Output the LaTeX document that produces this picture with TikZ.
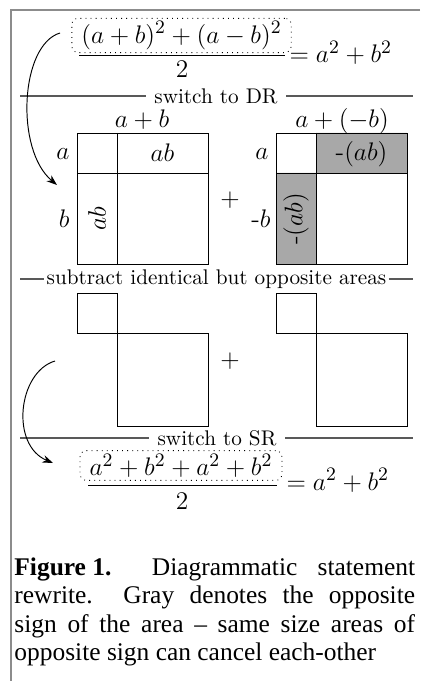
\documentclass[tikz,border=0pt]{standalone}
\usepackage{amsmath}
\usepackage{fontspec}
\newfontfamily\capfont{Liberation Serif}
\usetikzlibrary{positioning, calc, arrows.meta}

\definecolor{framegray}{gray}{0.55}
\definecolor{rulegray}{gray}{0.35}
\definecolor{areagray}{gray}{0.66}

\tikzset{
    cell/.style={draw, line width=0.45pt},
    side label/.style={font=\fontsize{12.4}{14}\selectfont, inner sep=1pt},
    sum box/.style={draw, dotted, rounded corners=3pt, inner xsep=4.5pt, inner ysep=1.5pt, font=\fontsize{12.4}{14}\selectfont},
    rule label/.style={font=\fontsize{10}{12}\selectfont, inner ysep=0pt, inner xsep=4pt},
    sep rule/.style={draw=rulegray, line width=0.6pt},
    rewrite arrow/.style={-{Stealth[length=5pt, width=3.6pt]}, line width=0.45pt},
}
% whole (a+b) square split into its four areas
\newcommand{\drawsplit}[2]{
    \draw[cell] (#1,#2) rectangle ++(131,131);
    \draw[cell] (#1+40,#2) -- ++(0,131) (#1,#2+40) -- ++(131,0);
}
% what is left: small a square and big b square
\newcommand{\drawleftover}[2]{
    \draw[cell] (#1,#2) rectangle ++(40,40);
    \draw[cell] (#1+40,#2+40) rectangle ++(91,93);
}

\begin{document}
\begin{tikzpicture}[x=0.4717pt, y=-0.4717pt]
    \useasboundingbox (0,0) rectangle (420,681);
    \draw[framegray, line width=0.7pt] (420,10) -- (11,10) -- (11,681);

    % statement before the rewrite
    \node[sum box] (topnum) at (181.5,35.5) {$(a+b)^2+(a-b)^2$};
    \coordinate (topbarL) at (79,55);
    \coordinate (topbarR) at (285,55);
    \draw[line width=0.45pt] (topbarL) -- (topbarR);
    \node[side label] (topden) at (182,69) {$2$};
    \node[side label, anchor=base west] (toprhs) at (287,63) {$=a^2+b^2$};

    \node[rule label] (todr) at (216,96) {switch to DR};
    \coordinate (drL) at (20,96);
    \coordinate (drR) at (413,96);
    \draw[sep rule] (drL) -- (todr.west) (todr.east) -- (drR);

    % DR: the two squares
    \fill[areagray] (316,133) rectangle (407,173) (276,173) rectangle (316,264);
    \drawsplit{77}{133}
    \drawsplit{276}{133}

    \node[side label, anchor=base] (sumA) at (142,128) {$a+b$};
    \node[side label, anchor=base east] (sideA1) at (72,160) {$a$};
    \node[side label, anchor=base east] (sideB1) at (72,228) {$b$};
    \node[side label] (cellA1) at (162.5,153) {$ab$};
    \node[side label, rotate=90] (cellB1) at (97,218.5) {$ab$};

    \node[side label] (plusA) at (230,200) {$+$};

    \node[side label, anchor=base] (sumB) at (342,128) {$a+(-b)$};
    \node[side label, anchor=base east] (sideA2) at (271,160) {$a$};
    \node[side label, anchor=base east] (sideB2) at (273,228) {-$b$};
    \node[side label, anchor=base] (cellA2) at (361.5,161) {-$(ab)$};
    \node[side label, rotate=90] (cellB2) at (296,219) {-$(ab)$};

    \node[rule label, inner xsep=1pt] (subtr) at (216.5,279) {subtract identical but opposite areas};
    \coordinate (subL) at (20,279);
    \coordinate (subR) at (413,279);
    \draw[sep rule] (subL) -- (subtr.west) (subtr.east) -- (subR);

    % after cancelling
    \drawleftover{77}{293}
    \drawleftover{276}{293}
    \node[side label] (plusB) at (230,361) {$+$};

    \node[rule label] (tosr) at (217,438) {switch to SR};
    \coordinate (srL) at (20,438);
    \coordinate (srR) at (413,438);
    \draw[sep rule] (srL) -- (tosr.west) (tosr.east) -- (srR);

    % statement after the rewrite
    \node[sum box] (botnum) at (181,465.5) {$a^2+b^2+a^2+b^2$};
    \coordinate (botbarL) at (88,485);
    \coordinate (botbarR) at (277,485);
    \draw[line width=0.45pt] (botbarL) -- (botbarR);
    \node[side label] (botden) at (182,501.5) {$2$};
    \node[side label, anchor=base west] (botrhs) at (284,490) {$=a^2+b^2$};

    % rewrite arrows
    \coordinate (arrAstart) at (60,33);
    \coordinate (arrAend) at (57,185);
    \draw[rewrite arrow] (arrAstart) .. controls (20,45) and (15,150) .. (arrAend);
    \coordinate (arrBstart) at (55,361);
    \coordinate (arrBend) at (53,463);
    \draw[rewrite arrow] (arrBstart) .. controls (18,372) and (10,445) .. (arrBend);

    \node[anchor=north west, text width=189pt, align=justify, inner sep=0pt,
          font=\capfont\fontsize{12}{13.5}\selectfont] (caption) at (14,557)
        {\mbox{\textbf{Figure 1.}}\ \ Diagrammatic statement\linebreak
         rewrite.\ \ Gray denotes the opposite\linebreak
         sign of the area – same size areas of\linebreak
         opposite sign can cancel each-other};
\end{tikzpicture}
\end{document}
